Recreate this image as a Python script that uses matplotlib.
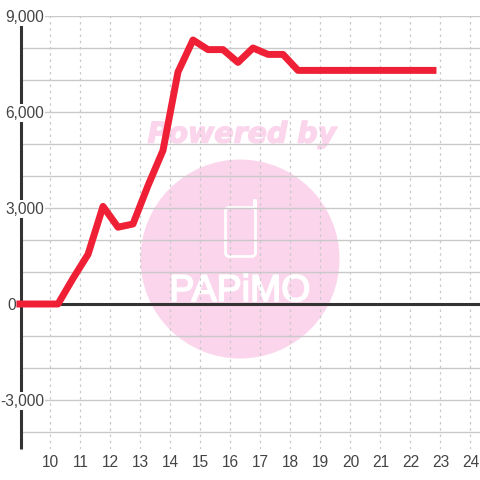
#!/usr/bin/python3

import matplotlib
matplotlib.use('Agg')
from matplotlib import pyplot as plt
from matplotlib import patheffects as pe
from matplotlib.patches import Circle, FancyBboxPatch

plt.rcParams['font.family'] = ['Liberation Sans', 'DejaVu Sans']

hours = [8.98, 9.25, 9.75, 10.25, 10.75, 11.25, 11.75, 12.25, 12.75, 13.25, 13.75, 14.25,
         14.75, 15.25, 15.75, 16.25, 16.75, 17.25, 17.75, 18.25, 18.75, 19.25, 19.75,
         20.25, 20.75, 21.25, 21.75, 22.25, 22.75]
values = [0, 0, 0, 0, 800, 1550, 3050, 2400, 2500, 3700, 4800, 7250,
          8250, 7950, 7950, 7550, 8000, 7800, 7800, 7300, 7300, 7300, 7300,
          7300, 7300, 7300, 7300, 7300, 7300]
x_ticks = list(range(10, 25))
y_grid = list(range(-4000, 10000, 1000))
y_ticks = [-3000, 0, 3000, 6000, 9000]

W = 480
PX = 72 / 100
fig = plt.figure(figsize=(4.8, 4.8), dpi=100, facecolor='white')

# watermark sits under the chart, in pixel coordinates
bg = fig.add_axes([0, 0, 1, 1], zorder=0)
bg.set_xlim(0, W)
bg.set_ylim(W, 0)
bg.axis('off')
pink = '#fbd5ec'
bg.add_patch(Circle((240, 259), 99.5, fc=pink, ec='none'))
bg.text(242, 134.5, 'Powered by', color=pink, fontsize=20.5, fontweight='bold', fontstyle='italic',
        family=['DejaVu Sans'], ha='center', va='center',
        path_effects=[pe.withStroke(linewidth=1.0, foreground=pink)])
bg.add_patch(FancyBboxPatch((225.5, 207.5), 30, 49, boxstyle='round,pad=0,rounding_size=4',
                            fc='none', ec='white', lw=2.0))
bg.plot([254.5, 254.5], [208, 201], color='white', lw=3.0, solid_capstyle='round')
bg.text(240, 291, 'PAPiMO', color='white', fontsize=27, ha='center', va='center',
        path_effects=[pe.withStroke(linewidth=1.2, foreground='white')])

# chart
ax = fig.add_axes([21 / W, 31 / W, (W - 21) / W, (449 - 16) / W], zorder=1)
ax.patch.set_alpha(0)
ax.set_xlim(9.0167, 24.317)
ax.set_ylim(-4531, 9000)

for y in y_grid:
    ax.axhline(y, color='#c9c9c9', lw=1.0, zorder=1)
for x in x_ticks:
    ax.axvline(x, color='#c9c9c9', lw=0.9, ls=(0, (2, 3)), zorder=1)

ax.axhline(0, color='#333333', lw=2.2, zorder=2)
ax.plot(hours, values, color='#ef2036', lw=5.0, solid_joinstyle='round', solid_capstyle='projecting',
        clip_on=False, zorder=3)

for s in ['top', 'right', 'bottom']:
    ax.spines[s].set_visible(False)
ax.spines['left'].set_color('#333333')
ax.spines['left'].set_linewidth(2.2)
ax.spines['left'].set_capstyle('butt')
ax.spines['left'].set_zorder(2)

ax.set_xticks(x_ticks)
ax.set_yticks(y_ticks)
ax.set_yticklabels([])
ax.tick_params(length=0)
ax.tick_params(axis='x', labelsize=11.2, labelcolor='#444444', pad=4)
for v in y_ticks:
    if v == 0:
        # zero label sits left of the axis, no backing box
        ax.annotate(f'{v:,}', (0, v), xycoords=('axes fraction', 'data'), xytext=(-5 * PX, -1 * PX),
                    textcoords='offset points', ha='right', va='center', fontsize=11.2,
                    color='#444444', zorder=5, annotation_clip=False)
    else:
        ax.annotate(f'{v:,}', (0, v), xycoords=('axes fraction', 'data'), xytext=(23 * PX, -1 * PX),
                    textcoords='offset points', ha='right', va='center', fontsize=11.2,
                    color='#444444', bbox=dict(fc='white', ec='none', pad=1.0), zorder=5,
                    annotation_clip=False)

fig.savefig('out.png', dpi=100)
